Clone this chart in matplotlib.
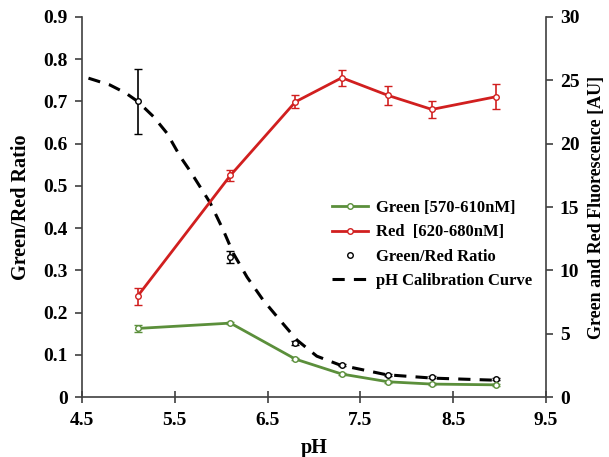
import numpy as np
import matplotlib
matplotlib.use('Agg')
import matplotlib.pyplot as plt
from matplotlib.lines import Line2D

plt.rcParams['font.family'] = ['Liberation Serif', 'DejaVu Serif']
plt.rcParams['font.weight'] = 'bold'

# Measured data
ph = [5.1, 6.1, 6.8, 7.3, 7.8, 8.27, 8.96]
green = [5.42, 5.84, 3.0, 1.82, 1.21, 1.03, 0.97]
green_err = [0.3, 0.1, 0.1, 0.08, 0.08, 0.08, 0.08]
red = [7.97, 17.5, 23.3, 25.2, 23.8, 22.7, 23.7]
red_err = [0.68, 0.45, 0.5, 0.65, 0.75, 0.65, 1.0]
ratio = [0.700, 0.332, 0.128, 0.076, 0.052, 0.047, 0.043]
ratio_err = [0.076, 0.014, 0.005, 0.003, 0.002, 0.002, 0.002]

# Calibration curve
cal_ph = [4.57, 4.80, 4.97, 5.10, 5.27, 5.415, 5.56, 5.666, 5.881, 6.021,
          6.129, 6.279, 6.451, 6.634, 6.817, 7.03, 7.28, 7.78, 8.28, 8.82, 8.97]
cal_ratio = [0.755, 0.739, 0.720, 0.700, 0.664, 0.625, 0.569, 0.535, 0.460, 0.396,
             0.341, 0.284, 0.230, 0.182, 0.135, 0.097, 0.076, 0.053, 0.045, 0.041, 0.040]

green_c = '#5b8f3b'
red_c = '#d11f1f'
spine_c = '#404040'

fig = plt.figure(figsize=(6.09, 4.57), dpi=100)
ax1 = fig.add_axes([0.1346, 0.131, 0.762, 0.832])
ax2 = ax1.twinx()

# left axis: ratio + calibration curve
ax1.plot(cal_ph, cal_ratio, color='black', lw=2.2, ls=(0, (4, 3)))
ax1.errorbar(ph, ratio, yerr=ratio_err, fmt='o', color='black', ms=4,
             mfc='white', mec='black', mew=1, ecolor='black', elinewidth=1.2,
             capsize=3, capthick=1.2)

# right axis: fluorescence
ax2.errorbar(ph, green, yerr=green_err, fmt='-o', color=green_c, lw=2, ms=4,
             mfc='white', mec=green_c, mew=1, ecolor=green_c, elinewidth=1.2,
             capsize=3, capthick=1.2)
ax2.errorbar(ph, red, yerr=red_err, fmt='-o', color=red_c, lw=2, ms=4,
             mfc='white', mec=red_c, mew=1, ecolor=red_c, elinewidth=1.2,
             capsize=3, capthick=1.2)

ax1.set_xlim(4.5, 9.5)
ax1.set_ylim(0, 0.9)
ax2.set_ylim(0, 30)
ax1.set_xticks(np.arange(4.5, 9.6, 1.0))
ax1.set_yticks(np.arange(0, 0.91, 0.1))
ax1.set_yticklabels(['0'] + ['%.1f' % v for v in np.arange(0.1, 0.91, 0.1)])
ax2.set_yticks(np.arange(0, 31, 5))

for ax in (ax1, ax2):
    ax.spines['top'].set_visible(False)
    for s in ax.spines.values():
        s.set_color(spine_c)
        s.set_linewidth(1.2)
ax1.spines['right'].set_visible(False)
ax2.spines['left'].set_visible(False)
ax2.spines['bottom'].set_visible(False)

ax1.tick_params(axis='x', direction='inout', length=8, width=1.2, color=spine_c,
                labelsize=14, pad=7)
ax1.tick_params(axis='y', direction='out', length=5, width=1.2, color=spine_c,
                labelsize=14, pad=5)
ax2.tick_params(axis='y', direction='out', length=5, width=1.2, color=spine_c,
                labelsize=14, pad=5)

ax1.set_xlabel('pH', fontsize=14.5, fontweight='bold', labelpad=6)
ax1.set_ylabel('Green/Red Ratio', fontsize=14.5, fontweight='bold')
ax1.yaxis.set_label_coords(-0.11, 0.5)
ax2.set_ylabel('Green and Red Fluorescence [AU]', fontsize=13, fontweight='bold')
ax2.yaxis.set_label_coords(1.09, 0.5)

handles = [
    Line2D([], [], color=green_c, lw=2, marker='o', ms=4, mfc='white', mec=green_c),
    Line2D([], [], color=red_c, lw=2, marker='o', ms=4, mfc='white', mec=red_c),
    Line2D([], [], color='black', ls='none', marker='o', ms=4, mfc='white', mec='black'),
    Line2D([], [], color='black', lw=2.2, ls=(0, (4, 3))),
]
labels = ['Green [570-610nM]', 'Red  [620-680nM]', 'Green/Red Ratio',
          'pH Calibration Curve']
ax2.legend(handles, labels, loc='upper left', bbox_to_anchor=(0.52, 0.54),
           frameon=False, fontsize=12, handlelength=2.2, handletextpad=0.45,
           labelspacing=0.5, borderpad=0)

fig.savefig('out.png', dpi=100)
